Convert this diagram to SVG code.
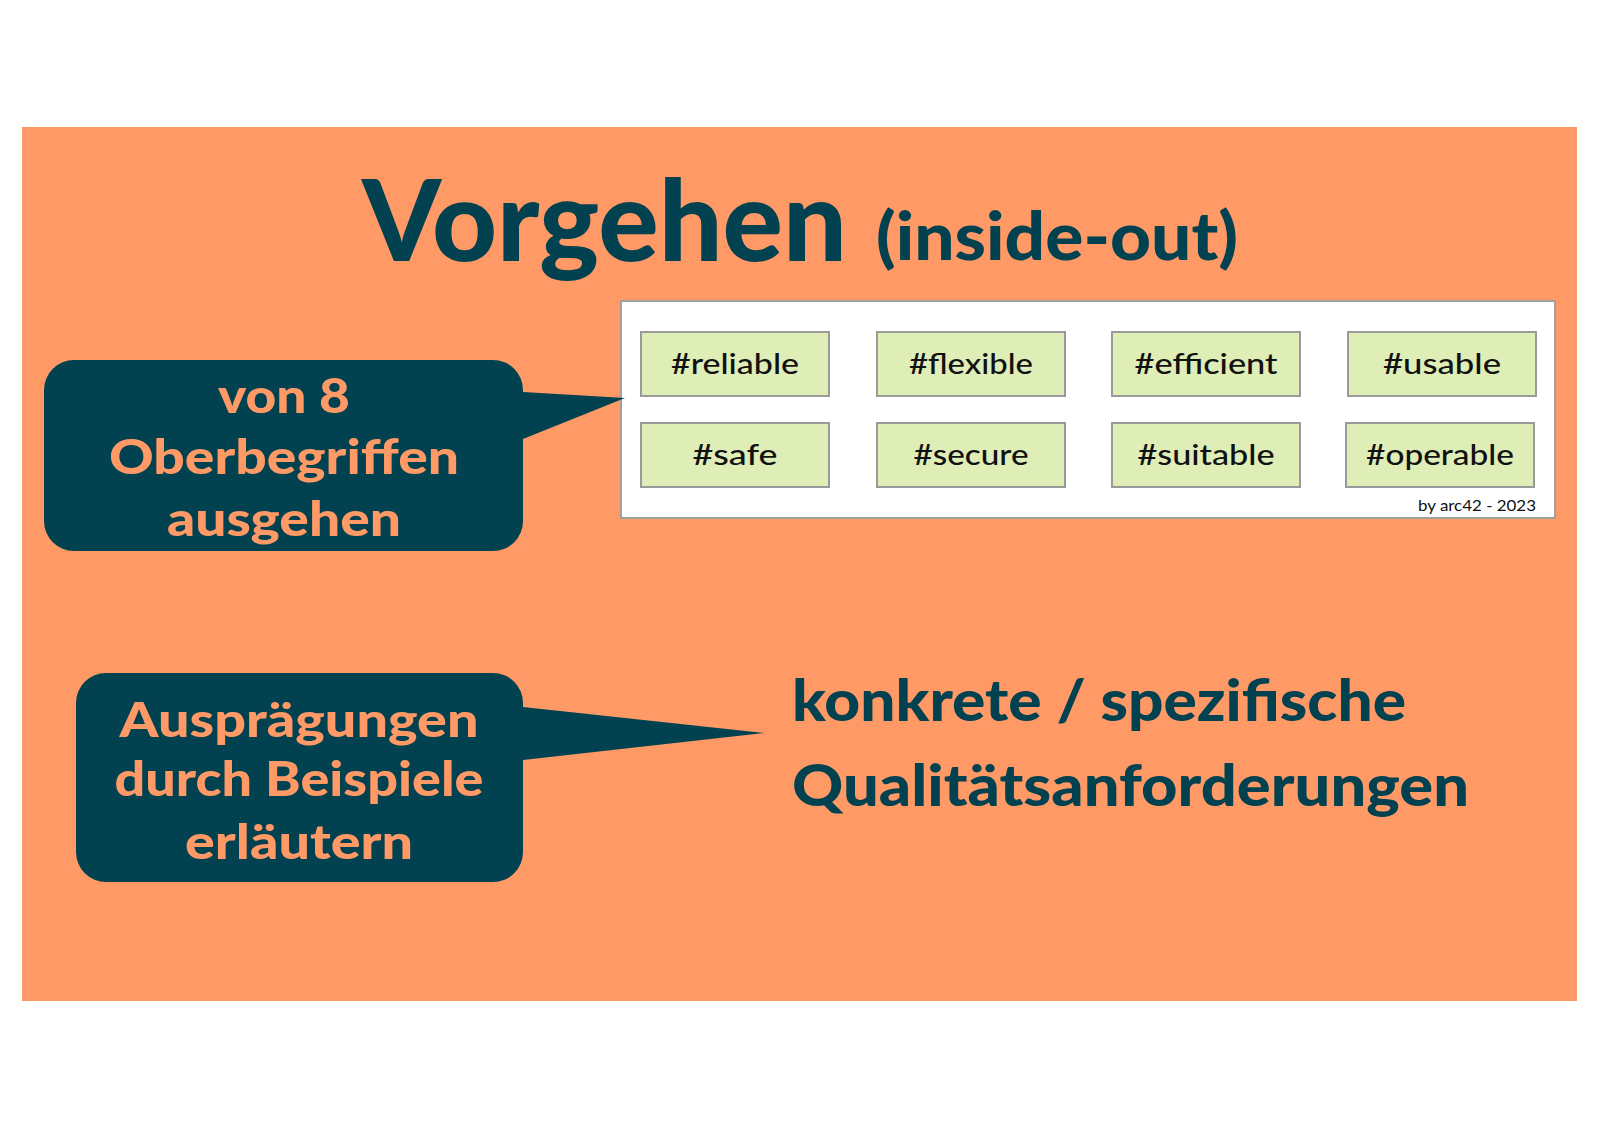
<svg xmlns="http://www.w3.org/2000/svg" width="1600" height="1131" viewBox="0 0 1600 1131">
<style>
.t{font-family:Lato,"Open Sans","DejaVu Sans",sans-serif;font-weight:900;fill:#02414F}
.c{font-family:Lato,"Open Sans","DejaVu Sans",sans-serif;font-weight:900;fill:#FF9966;font-size:48px;text-anchor:middle}
.bub{fill:#02414F}
.tag{fill:#DFEDB7;stroke:#9A9A9A;stroke-width:2}
.tl{font-family:Lato,"Open Sans","DejaVu Sans",sans-serif;font-weight:500;font-size:29px;fill:#111;text-anchor:middle}
</style>
<rect width="1600" height="1131" fill="#FFFFFF"/>
<rect x="22" y="127" width="1555" height="874" fill="#FF9966"/>
<g id="title">
<text class="t" x="362" y="261" font-size="112" textLength="485" lengthAdjust="spacingAndGlyphs">Vorgehen</text>
<text class="t" x="876" y="260" font-size="66" textLength="362" lengthAdjust="spacingAndGlyphs">(inside-out)</text>
</g>
<g id="quality-box">
<rect x="621" y="301" width="934" height="217" fill="#FFFFFF" stroke="#A0A0A0" stroke-width="2"/>
<g id="tag-reliable"><rect class="tag" x="641" y="332" width="188" height="64"/><text class="tl" x="735" y="374" textLength="128" lengthAdjust="spacingAndGlyphs">#reliable</text></g>
<g id="tag-flexible"><rect class="tag" x="877" y="332" width="188" height="64"/><text class="tl" x="971" y="374" textLength="124" lengthAdjust="spacingAndGlyphs">#flexible</text></g>
<g id="tag-efficient"><rect class="tag" x="1112" y="332" width="188" height="64"/><text class="tl" x="1206" y="374" textLength="143" lengthAdjust="spacingAndGlyphs">#efficient</text></g>
<g id="tag-usable"><rect class="tag" x="1348" y="332" width="188" height="64"/><text class="tl" x="1442" y="374" textLength="118" lengthAdjust="spacingAndGlyphs">#usable</text></g>
<g id="tag-safe"><rect class="tag" x="641" y="423" width="188" height="64"/><text class="tl" x="735" y="465" textLength="85" lengthAdjust="spacingAndGlyphs">#safe</text></g>
<g id="tag-secure"><rect class="tag" x="877" y="423" width="188" height="64"/><text class="tl" x="971" y="465" textLength="115" lengthAdjust="spacingAndGlyphs">#secure</text></g>
<g id="tag-suitable"><rect class="tag" x="1112" y="423" width="188" height="64"/><text class="tl" x="1206" y="465" textLength="137" lengthAdjust="spacingAndGlyphs">#suitable</text></g>
<g id="tag-operable"><rect class="tag" x="1346" y="423" width="188" height="64"/><text class="tl" x="1440" y="465" textLength="148" lengthAdjust="spacingAndGlyphs">#operable</text></g>
<text x="1536" y="511" font-family="Lato,'Open Sans',sans-serif" font-size="16" fill="#111" text-anchor="end" textLength="118" lengthAdjust="spacingAndGlyphs">by arc42 - 2023</text>
</g>
<g id="callout-1">
<path class="bub" d="M74 360 H493 A30 30 0 0 1 523 390 V392 L625 398 L523 439 V521 A30 30 0 0 1 493 551 H74 A30 30 0 0 1 44 521 V390 A30 30 0 0 1 74 360 Z"/>
<text class="c" x="284" y="413" textLength="132" lengthAdjust="spacingAndGlyphs">von 8</text>
<text class="c" x="284" y="474" textLength="350" lengthAdjust="spacingAndGlyphs">Oberbegriffen</text>
<text class="c" x="284" y="536" textLength="234" lengthAdjust="spacingAndGlyphs">ausgehen</text>
</g>
<g id="callout-2">
<path class="bub" d="M106 673 H493 A30 30 0 0 1 523 703 V707 L765 733 L523 760 V852 A30 30 0 0 1 493 882 H106 A30 30 0 0 1 76 852 V703 A30 30 0 0 1 106 673 Z"/>
<text class="c" x="299" y="737" textLength="359" lengthAdjust="spacingAndGlyphs">Ausprägungen</text>
<text class="c" x="299" y="796" textLength="369" lengthAdjust="spacingAndGlyphs">durch Beispiele</text>
<text class="c" x="299" y="859" textLength="228" lengthAdjust="spacingAndGlyphs">erläutern</text>
</g>
<g id="result">
<text class="t" x="792" y="721" font-size="58" textLength="614" lengthAdjust="spacingAndGlyphs">konkrete / spezifische</text>
<text class="t" x="792" y="806" font-size="58" textLength="677" lengthAdjust="spacingAndGlyphs">Qualitätsanforderungen</text>
</g>
</svg>
